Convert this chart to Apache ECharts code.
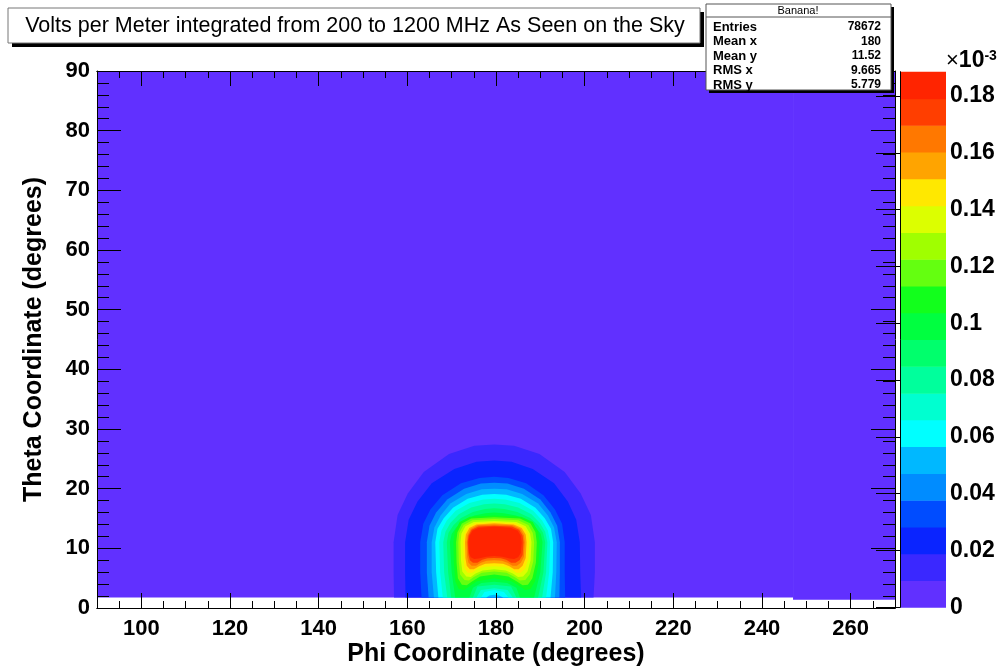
<!DOCTYPE html>
<html>
<head>
<meta charset="utf-8">
<script src="https://cdn.jsdelivr.net/npm/echarts@6/dist/echarts.min.js"></script>
<style>
  html, body { margin: 0; padding: 0; background: #ffffff; }
  #chart { width: 1002px; height: 667px; }
</style>
</head>
<body>
<div id="chart"></div>
<script>
// ---- axis labels ----
const phiLabels = [100, 120, 140, 160, 180, 200, 220, 240, 260];
const thetaLabels = [0, 10, 20, 30, 40, 50, 60, 70, 80, 90];
const scaleLabels = [0, 0.02, 0.04, 0.06, 0.08, 0.1, 0.12, 0.14, 0.16, 0.18];

// ---- contour levels (units of 1e-3 V/m) and palette ----
const levelEdges = [0, 0.0094, 0.0189, 0.0283, 0.0377, 0.0471, 0.0566, 0.0660, 0.0754, 0.0849,
                    0.0943, 0.1037, 0.1131, 0.1226, 0.1320, 0.1414, 0.1509, 0.1603, 0.1697, 0.1791, 0.1886];
const levelColors = ['#6130ff', '#3a28ff', '#0a24ff', '#004cff', '#008cff', '#00b8ff', '#00ffff',
                     '#00ffd0', '#00ff9c', '#00ff6c', '#00ff40', '#12ff1c', '#64ff10', '#a0ff00',
                     '#dcff00', '#ffe800', '#ffa400', '#ff7800', '#ff3e00', '#ff2400'];

// ---- filled cells of the lowest level: [phiFrom, phiTo, thetaFrom, thetaTo] ----
const lowestLevelCells = [[90, 247, 1.75, 90], [247, 270, 1.4, 90]];

// ---- outlines of the region at or above each level: [phi, theta] ----
const L01 = [[157.0,1.75],[156.9,6],[156.9,11],[157.8,15.6],[160.1,19.2],[163.7,22.8],[169.4,25.8],[175.1,27.2],[179.6,27.4],
             [184.1,27.2],[189.8,25.8],[195.5,22.8],[199.1,19.2],[201.4,15.6],[202.3,11],[202.3,6],[202.0,1.75]];
const L02 = [[159.6,1.75],[159.5,6],[159.5,11],[160.3,14.8],[162.3,17.85],[165.5,20.9],[170.6,23.3],[175.6,24.5],[179.6,24.7],
             [183.5,24.5],[188.3,23.3],[193.1,20.9],[196.2,17.85],[198.1,14.8],[198.9,11],[199.0,6],[199.2,1.75]];
const L03 = [[163.2,1.75],[162.9,6],[162.9,11],[163.6,14.1],[165.2,16.5],[167.9,18.9],[172.1,20.9],[176.3,21.8],[179.6,22.0],
             [182.8,21.8],[186.8,20.9],[190.7,18.9],[193.3,16.5],[194.9,14.1],[195.5,11],[195.5,6],[195.6,1.75]];
const L04 = [[164.8,1.75],[164.4,6],[164.4,11],[165.0,13.8],[166.5,16.0],[169.0,18.2],[172.8,20.0],[176.6,20.85],[179.6,21.0],
             [182.6,20.85],[186.3,20.0],[190.0,18.2],[192.3,16.0],[193.8,13.8],[194.4,11],[194.4,6],[194.3,1.75]];
const L05 = [[166.0,1.75],[165.5,6],[165.5,11],[166.1,13.5],[167.5,15.5],[169.7,17.5],[173.3,19.1],[176.8,19.9],[179.6,20.0],
             [182.4,19.9],[185.9,19.1],[189.5,17.5],[191.7,15.5],[193.1,13.5],[193.7,11],[193.6,6],[193.3,1.75]];
const L06 = [[167.0,1.75],[166.5,6],[166.3,11],[166.8,13.3],[168.2,15.05],[170.3,16.8],[173.6,18.3],[176.9,19.0],[179.6,19.1],
             [182.3,19.0],[185.6,18.3],[188.9,16.8],[191.0,15.05],[192.4,13.3],[192.9,11],[192.8,6],[192.3,1.75],
             [181.6,1.75],[180.7,2.1],[179.6,2.2],[178.5,2.1],[177.8,1.75]];
const L07 = [[168.0,1.75],[167.4,6],[167.2,11],[167.7,13.0],[168.9,14.65],[170.9,16.3],[174.0,17.6],[177.1,18.2],[179.6,18.3],
             [182.1,18.2],[185.3,17.6],[188.4,16.3],[190.4,14.65],[191.7,13.0],[192.2,11],[192.0,6],[191.3,1.75],
             [182.8,1.75],[181.8,2.7],[179.6,3.0],[177.4,2.7],[176.6,1.75]];
const L08 = [[169.0,1.75],[168.3,6],[168.1,11],[168.6,12.8],[169.7,14.25],[171.6,15.7],[174.4,16.85],[177.3,17.4],[179.6,17.5],
             [182.0,17.4],[185.0,16.85],[188.0,15.7],[189.9,14.25],[191.1,12.8],[191.6,11],[191.3,6],[190.4,1.75],
             [183.8,1.75],[182.6,3.0],[179.6,3.3],[176.6,3.0],[175.6,1.75]];
const L09 = [[169.9,1.75],[169.2,6],[168.9,11],[169.3,12.6],[170.4,13.85],[172.1,15.1],[174.8,16.1],[177.5,16.6],[179.6,16.7],
             [181.9,16.6],[184.8,16.1],[187.7,15.1],[189.5,13.85],[190.6,12.6],[191.1,11],[190.7,6],[189.5,1.75],
             [184.6,1.75],[183.4,3.6],[179.6,3.9],[175.8,3.6],[174.8,1.75]];
const L10 = [[170.8,1.75],[170.0,6],[169.6,11],[170.0,12.4],[171.0,13.5],[172.6,14.6],[175.1,15.5],[177.6,15.9],[179.6,16.0],
             [181.8,15.9],[184.5,15.5],[187.2,14.6],[189.0,13.5],[190.1,12.4],[190.5,11],[190.0,6],[188.6,1.75],
             [185.4,1.75],[184.6,3.4],[182.5,4.2],[179.6,4.4],[176.7,4.2],[174.8,3.4],[174.0,1.75]];
const L11 = [[170.4,11],[170.7,12.8],[171.8,14.4],[174.1,15.3],[179.6,15.5],[185.7,15.3],[188.3,14.4],[189.5,12.8],[189.8,11],
             [189.6,7.5],[188.8,4.5],[187.8,3.2],[186.6,3.0],[185.6,3.5],[183.5,4.5],[179.6,5.0],[175.7,4.5],[173.8,3.5],
             [172.8,3.0],[171.6,3.2],[170.8,4.5],[170.5,7.5]];
const L12 = [[171.0,11],[171.3,12.7],[172.3,14.15],[174.4,15.0],[179.6,15.2],[185.4,15.0],[187.8,14.15],[188.9,12.7],[189.2,11],
             [189.0,7.6],[188.2,5.0],[187.2,3.9],[186.0,3.8],[184.8,4.4],[182.8,5.3],[179.6,5.6],[176.4,5.3],[174.5,4.4],
             [173.4,3.8],[172.3,3.9],[171.4,5.0],[171.1,7.6]];
const L13 = [[171.5,11],[171.7,12.55],[172.7,13.9],[174.7,14.7],[179.6,14.9],[185.0,14.7],[187.3,13.9],[188.3,12.55],[188.6,11],
             [188.4,7.8],[187.6,5.6],[186.6,4.7],[185.4,4.6],[184.2,5.2],[182.4,5.9],[179.6,6.1],[176.8,5.9],[175.0,5.2],
             [173.9,4.6],[172.9,4.7],[171.9,5.6],[171.6,7.8]];
const L14 = [[172.0,11],[172.2,12.45],[173.1,13.7],[175.0,14.4],[179.6,14.6],[184.6,14.4],[186.7,13.7],[187.7,12.45],[188.0,11],
             [187.8,8.0],[187.1,6.1],[186.1,5.3],[185.0,5.2],[183.8,5.8],[182.2,6.3],[179.6,6.5],[177.0,6.3],[175.4,5.8],
             [174.3,5.2],[173.3,5.3],[172.4,6.1],[172.1,8.0]];
const L15 = [[172.6,11],[172.8,12.35],[173.7,13.55],[175.4,14.2],[179.6,14.4],[184.3,14.2],[186.3,13.55],[187.3,12.35],[187.5,11],
             [187.3,8.2],[186.6,6.6],[185.6,5.9],[184.6,5.9],[183.4,6.5],[181.8,6.9],[179.6,7.0],[177.4,6.9],[175.8,6.5],
             [174.6,5.9],[173.6,5.9],[172.9,6.6],[172.7,8.2]];
const L16 = [[173.0,11],[173.2,12.3],[174.0,13.4],[175.6,14.0],[179.6,14.2],[184.0,14.0],[185.8,13.4],[186.7,12.3],[186.9,11],
             [186.7,8.4],[186.0,7.1],[185.1,6.5],[184.1,6.5],[183.0,7.0],[181.6,7.4],[179.6,7.5],[177.6,7.4],[176.2,7.0],
             [175.0,6.5],[174.1,6.5],[173.4,7.1],[173.1,8.4]];
const L17 = [[173.4,11],[173.6,12.2],[174.3,13.25],[175.9,13.85],[179.6,14.0],[183.7,13.85],[185.5,13.25],[186.3,12.2],[186.5,11],
             [186.3,8.6],[185.6,7.6],[184.7,7.1],[183.7,7.1],[182.6,7.6],[181.3,7.9],[179.6,8.0],[177.9,7.9],[176.6,7.6],
             [175.5,7.1],[174.5,7.1],[173.8,7.6],[173.5,8.6]];
const L18 = [[173.6,11],[173.8,12.1],[174.5,13.1],[176.0,13.65],[179.6,13.8],[183.6,13.65],[185.2,13.1],[186.0,12.1],[186.2,11],
             [186.0,8.9],[185.3,8.0],[184.4,7.6],[183.4,7.6],[182.3,8.1],[181.1,8.35],[179.6,8.4],[178.1,8.35],[176.9,8.1],
             [175.8,7.6],[174.8,7.6],[174.1,8.0],[173.8,8.9]];
const L19 = [[173.8,11],[174.0,12.05],[174.7,12.95],[176.1,13.45],[179.6,13.6],[183.3,13.45],[184.9,12.95],[185.6,12.05],[185.8,11],
             [185.6,9.2],[185.0,8.5],[184.1,8.2],[183.1,8.3],[181.4,8.6],[179.6,8.7],[177.8,8.6],[176.1,8.3],[175.1,8.2],
             [174.3,8.5],[173.9,9.2]];
const levelOutlines = [L01, L02, L03, L04, L05, L06, L07, L08, L09, L10,
                       L11, L12, L13, L14, L15, L16, L17, L18, L19];

// ---- statistics box ----
const statTitle = 'Banana!';
const statNames = ['Entries', 'Mean x', 'Mean y', 'RMS x', 'RMS y'];
const statValues = ['78672', '180', '11.52', '9.665', '5.779'];

const chartTitle = 'Volts per Meter integrated from 200 to 1200 MHz As Seen on the Sky';

// ---------------------------------------------------------------
const FONT = '"Liberation Sans", Arial, Helvetica, sans-serif';
const labelFont = { fontFamily: FONT, fontWeight: 'bold', fontSize: 22, color: '#000' };
const titleFont = { fontFamily: FONT, fontWeight: 'bold', fontSize: 25, color: '#000' };
const black = { color: '#000', width: 1 };

const chart = echarts.init(document.getElementById('chart'), null, { renderer: 'canvas', width: 1002, height: 667 });

function frameAxis(pos, extra) {
  return Object.assign({
    gridIndex: 0, type: 'value', position: pos, z: 10,
    axisLine: { show: true, onZero: false, lineStyle: black },
    axisTick: { show: true, inside: true, lineStyle: black },
    axisLabel: { show: false }, splitLine: { show: false }
  }, extra);
}

const option = {
  backgroundColor: '#ffffff',
  animation: false,
  grid: [
    { left: 97, top: 71, width: 798, height: 537, containLabel: false, outerBoundsMode: 'none' },
    { left: 900, top: 71.7, width: 46, height: 535.6, containLabel: false, outerBoundsMode: 'none' }
  ],
  xAxis: [
    frameAxis('bottom', { min: 90, max: 270, interval: 5, axisTick: { show: true, inside: true, length: 7, lineStyle: black } }),
    frameAxis('bottom', { min: 90, max: 270,
      axisTick: { show: true, inside: true, length: 15, customValues: phiLabels, lineStyle: black },
      axisLabel: Object.assign({ show: true, margin: 10, customValues: phiLabels }, labelFont),
      name: 'Phi Coordinate (degrees)', nameLocation: 'middle', nameGap: 34, nameMoveOverlap: false, nameTextStyle: titleFont }),
    frameAxis('top', { min: 90, max: 270, interval: 5, axisTick: { show: true, inside: true, length: 7, lineStyle: black } }),
    frameAxis('top', { min: 90, max: 270,
      axisTick: { show: true, inside: true, length: 15, customValues: phiLabels, lineStyle: black } }),
    { gridIndex: 1, type: 'value', min: 0, max: 1, show: false }
  ],
  yAxis: [
    frameAxis('left', { min: 0, max: 90, interval: 10,
      axisTick: { show: true, inside: true, length: 24, lineStyle: black },
      minorTick: { show: true, splitNumber: 5, length: 12, lineStyle: black },
      axisLabel: Object.assign({ show: true, margin: 7, customValues: thetaLabels }, labelFont),
      name: 'Theta Coordinate (degrees)', nameLocation: 'middle', nameGap: 50, nameRotate: 90, nameTextStyle: titleFont }),
    frameAxis('right', { min: 0, max: 90, interval: 10,
      axisTick: { show: true, inside: true, length: 24, lineStyle: black },
      minorTick: { show: true, splitNumber: 5, length: 12, lineStyle: black } }),
    { gridIndex: 1, type: 'value', position: 'right', z: 10, min: levelEdges[0], max: levelEdges[levelEdges.length - 1],
      axisLine: { show: true, lineStyle: black },
      axisTick: { show: true, inside: true, length: 24, customValues: scaleLabels, lineStyle: black },
      axisLabel: Object.assign({ show: true, margin: 4, customValues: scaleLabels }, labelFont, { fontSize: 23 }),
      splitLine: { show: false } }
  ],
  series: [
    {
      type: 'custom', xAxisIndex: 0, yAxisIndex: 0, silent: true, clip: true, z: 1,
      data: lowestLevelCells,
      encode: { x: [0, 1], y: [2, 3] },
      renderItem: function (params, api) {
        const a = api.coord([api.value(0), api.value(3)]);
        const b = api.coord([api.value(1), api.value(2)]);
        return { type: 'rect', shape: { x: a[0], y: a[1], width: b[0] - a[0], height: b[1] - a[1] },
                 style: { fill: levelColors[0] } };
      }
    },
    {
      type: 'custom', xAxisIndex: 0, yAxisIndex: 0, silent: true, clip: true, z: 2,
      data: levelOutlines.map(function (o, i) { return [o[0][0], o[0][1], i + 1]; }),
      encode: { x: 0, y: 1 },
      renderItem: function (params, api) {
        const outline = levelOutlines[params.dataIndex];
        const pts = outline.map(function (p) { return api.coord(p); });
        return { type: 'polygon', shape: { points: pts },
                 style: { fill: levelColors[api.value(2)] } };
      }
    },
    {
      type: 'custom', xAxisIndex: 4, yAxisIndex: 2, silent: true, z: 1,
      data: levelColors.map(function (c, i) { return [0, 1, levelEdges[i], levelEdges[i + 1]]; }),
      encode: { x: [0, 1], y: [2, 3] },
      renderItem: function (params, api) {
        const a = api.coord([api.value(0), api.value(3)]);
        const b = api.coord([api.value(1), api.value(2)]);
        return { type: 'rect', shape: { x: a[0], y: a[1], width: b[0] - a[0], height: b[1] - a[1] + 0.5 },
                 style: { fill: levelColors[params.dataIndex] } };
      }
    }
  ],
  graphic: [
    // title pave
    { type: 'rect', z: 100, shape: { x: 12, y: 12, width: 692, height: 35 }, style: { fill: '#000' }, silent: true },
    { type: 'rect', z: 101, shape: { x: 8, y: 8, width: 692, height: 35 }, style: { fill: '#ffffff', stroke: '#777', lineWidth: 1 }, silent: true },
    { type: 'text', z: 102, x: 355, y: 26, style: { text: chartTitle, font: '21.5px ' + FONT, fill: '#000', align: 'center', verticalAlign: 'middle' }, silent: true },
    // statistics pave
    { type: 'rect', z: 100, shape: { x: 709, y: 7, width: 185, height: 86 }, style: { fill: '#000' }, silent: true },
    { type: 'rect', z: 101, shape: { x: 706, y: 4, width: 185, height: 86 }, style: { fill: '#ffffff', stroke: '#555', lineWidth: 1 }, silent: true },
    { type: 'line', z: 102, shape: { x1: 706, y1: 17, x2: 891, y2: 17 }, style: { stroke: '#555', lineWidth: 1 }, silent: true },
    { type: 'text', z: 102, x: 798, y: 10.5, style: { text: statTitle, font: '11px ' + FONT, fill: '#000', align: 'center', verticalAlign: 'middle' }, silent: true }
  ].concat(statNames.map(function (n, i) {
    return { type: 'text', z: 102, x: 713, y: 27 + i * 14.5, style: { text: n, font: 'bold 13px ' + FONT, fill: '#000', verticalAlign: 'middle' }, silent: true };
  })).concat(statValues.map(function (v, i) {
    return { type: 'text', z: 102, x: 881, y: 27 + i * 14.5, style: { text: v, font: 'bold 12px ' + FONT, fill: '#000', align: 'right', verticalAlign: 'middle' }, silent: true };
  })).concat([
    { type: 'text', z: 102, x: 946, y: 49, silent: true,
      style: { text: '{m|\u00d7}{b|10}{s|-3}', rich: {
        m: { font: '22px ' + FONT, fill: '#000', verticalAlign: 'bottom' },
        b: { font: 'bold 23px ' + FONT, fill: '#000', verticalAlign: 'bottom' },
        s: { font: 'bold 14px ' + FONT, fill: '#000', verticalAlign: 'top' } } } }
  ])
};

chart.setOption(option);
</script>
</body>
</html>
